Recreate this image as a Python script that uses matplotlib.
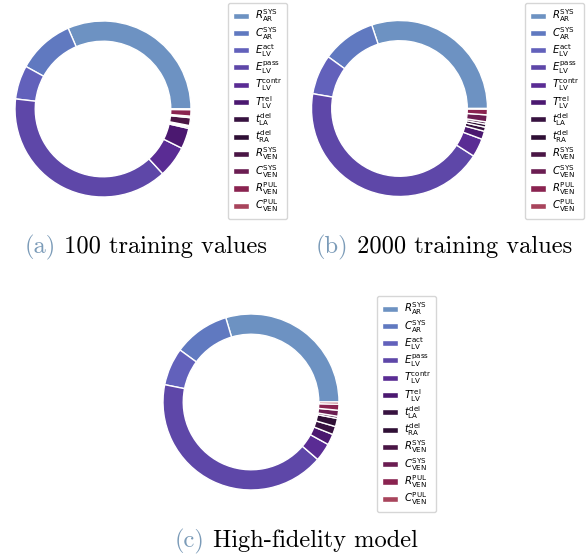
import matplotlib.pyplot as plt

# parameter names and relative sensitivity shares (%)
labels = [r'$R_{\mathrm{AR}}^{\mathrm{SYS}}$', r'$C_{\mathrm{AR}}^{\mathrm{SYS}}$',
          r'$E_{\mathrm{LV}}^{\mathrm{act}}$', r'$E_{\mathrm{LV}}^{\mathrm{pass}}$',
          r'$T_{\mathrm{LV}}^{\mathrm{contr}}$', r'$T_{\mathrm{LV}}^{\mathrm{rel}}$',
          r'$t_{\mathrm{LA}}^{\mathrm{del}}$', r'$t_{\mathrm{RA}}^{\mathrm{del}}$',
          r'$R_{\mathrm{VEN}}^{\mathrm{SYS}}$', r'$C_{\mathrm{VEN}}^{\mathrm{SYS}}$',
          r'$R_{\mathrm{VEN}}^{\mathrm{PUL}}$', r'$C_{\mathrm{VEN}}^{\mathrm{PUL}}$']

vals_100 = [31.5, 10.5, 6.2, 38.7, 5.8, 3.8, 0.28, 0.25, 1.44, 0.28, 1.19, 0.11]
vals_2000 = [30.1, 9.9, 7.3, 43.6, 3.4, 1.5, 0.75, 0.56, 0.42, 1.28, 1.08, 0.08]
vals_hf = [29.6, 10.3, 6.9, 41.8, 3.3, 2.0, 1.5, 1.5, 0.4, 1.1, 1.1, 0.4]

colors = ['#6d92c2', '#6079c0', '#6261bb', '#5e47a8', '#5a2c94', '#4b1870',
          '#371240', '#2f0f35', '#4a1645', '#6b1d52', '#8a2350', '#a8445c']

captions = [('(a)', ' 100 training values'),
            ('(b)', ' 2000 training values'),
            ('(c)', ' High-fidelity model')]

W, H = 586, 557
fig = plt.figure(figsize=(W / 100, H / 100), dpi=100)


def px(x, y, w, h):
    # pixel box (from top-left) -> figure fraction
    return [x / W, 1 - (y + h) / H, w / W, h / H]


def caption(x, y, cap):
    t = fig.text(x / W, 1 - y / H, cap[0], fontfamily='cmr10', fontsize=17.6,
                 color='#7b9bb8', ha='left', va='baseline')
    fig.canvas.draw()
    bb = t.get_window_extent()
    fig.text(bb.x1 / W, 1 - y / H, cap[1], fontfamily='cmr10', fontsize=17.6,
             color='black', ha='left', va='baseline')


r = 88
for (cx, cy, vals, leg) in [(103, 109, vals_100, (228, 3)),
                            (399.5, 108.5, vals_2000, (525, 3)),
                            (251, 402, vals_hf, (377, 296))]:
    ax = fig.add_axes(px(cx - r, cy - r, 2 * r, 2 * r))
    wedges, _ = ax.pie(vals, colors=colors, startangle=0, counterclock=True,
                       wedgeprops=dict(width=0.23, edgecolor='white', linewidth=1))
    ax.set_xlim(-1, 1)
    ax.set_ylim(-1, 1)
    ax.set_aspect('equal')
    fig.legend(wedges, labels, loc='upper left',
               bbox_to_anchor=(leg[0] / W, 1 - leg[1] / H),
               borderaxespad=0, fontsize=7.3, labelspacing=0.05,
               handlelength=1.6, handleheight=0.55, handletextpad=0.6,
               borderpad=0.45)

caption(25, 253, captions[0])
caption(316, 253, captions[1])
caption(175, 547, captions[2])

fig.savefig('out.png', dpi=100)
